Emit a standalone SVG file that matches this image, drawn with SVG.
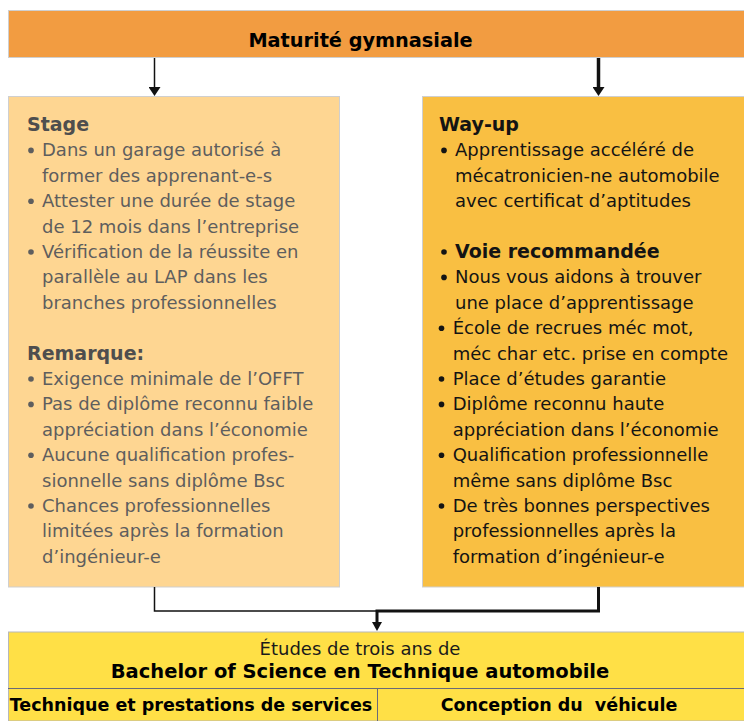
<svg xmlns="http://www.w3.org/2000/svg" width="744" height="721" viewBox="0 0 744 721">
<defs>
<style>
text{font-family:"DejaVu Sans","Liberation Sans",sans-serif}
.b{font-size:18px}
.h{font-size:19px;font-weight:bold}
.l{fill:#5e5e5e}
.lh{fill:#4e4e4e}
.r{fill:#141414}
.dl{fill:#5e5e5e}
.dr{fill:#141414}
.box{stroke:#cfcfcf;stroke-width:1}
.ln{fill:none;stroke:#111}
</style>
<marker id="ah" markerUnits="userSpaceOnUse" markerWidth="12" markerHeight="12" viewBox="0 0 9 12" refX="0" refY="6" orient="auto">
<path d="M0,0 L9,6 L0,12 z" fill="#111"/>
</marker>
<marker id="ah2" markerUnits="userSpaceOnUse" markerWidth="10" markerHeight="10" viewBox="0 0 9 10" refX="0" refY="5" orient="auto">
<path d="M0,0 L9,5 L0,10 z" fill="#111"/>
</marker>
</defs>

<g id="title">
<rect class="box" x="8.5" y="10.5" width="736" height="47" fill="#F29C41"/>
<text x="360.5" y="46.7" text-anchor="middle" font-size="19.3" font-weight="bold" fill="#000">Maturité gymnasiale</text>
</g>

<g id="stage">
<rect class="box" x="8.5" y="96.5" width="331" height="490.5" fill="#FED692"/>
<text class="h lh" x="27" y="131">Stage</text>
<g class="dl">
<circle cx="31" cy="150.4" r="2.8"/><circle cx="31" cy="201.2" r="2.8"/><circle cx="31" cy="252" r="2.8"/>
<circle cx="31" cy="379" r="2.8"/><circle cx="31" cy="404.4" r="2.8"/><circle cx="31" cy="455.2" r="2.8"/><circle cx="31" cy="506" r="2.8"/>
</g>
<g class="b l">
<text x="42" y="156.4">Dans un garage autorisé à</text>
<text x="42" y="181.8">former des apprenant-e-s</text>
<text x="42" y="207.2">Attester une durée de stage</text>
<text x="42" y="232.6">de 12 mois dans l’entreprise</text>
<text x="42" y="258">Vérification de la réussite en</text>
<text x="42" y="283.4">parallèle au LAP dans les</text>
<text x="42" y="308.8">branches professionnelles</text>
</g>
<text class="h lh" x="27" y="359.6">Remarque:</text>
<g class="b l">
<text x="42" y="385">Exigence minimale de l’OFFT</text>
<text x="42" y="410.4">Pas de diplôme reconnu faible</text>
<text x="42" y="435.8">appréciation dans l’économie</text>
<text x="42" y="461.2">Aucune qualification profes-</text>
<text x="42" y="486.6">sionnelle sans diplôme Bsc</text>
<text x="42" y="512">Chances professionnelles</text>
<text x="42" y="537.4">limitées après la formation</text>
<text x="42" y="562.8">d’ingénieur-e</text>
</g>
</g>

<g id="wayup">
<rect class="box" x="422.5" y="96.5" width="322" height="490.5" fill="#F9BF42"/>
<text class="h r" x="439" y="131">Way-up</text>
<g class="dr">
<circle cx="444" cy="150.4" r="2.8"/><circle cx="444" cy="252" r="2.8"/><circle cx="444" cy="277.4" r="2.8"/>
<circle cx="441.5" cy="328.2" r="2.8"/><circle cx="441.5" cy="379" r="2.8"/><circle cx="441.5" cy="404.4" r="2.8"/><circle cx="441.5" cy="455.2" r="2.8"/><circle cx="441.5" cy="506" r="2.8"/>
</g>
<g class="b r">
<text x="455" y="156.4">Apprentissage accéléré de</text>
<text x="455" y="181.8">mécatronicien-ne automobile</text>
<text x="455" y="207.2">avec certificat d’aptitudes</text>
</g>
<text class="h r" x="455" y="258">Voie recommandée</text>
<g class="b r">
<text x="455" y="283.4">Nous vous aidons à trouver</text>
<text x="455" y="308.8">une place d’apprentissage</text>
<text x="452.7" y="334.2">École de recrues méc mot,</text>
<text x="452.7" y="359.6">méc char etc. prise en compte</text>
<text x="452.7" y="385">Place d’études garantie</text>
<text x="452.7" y="410.4">Diplôme reconnu haute</text>
<text x="452.7" y="435.8">appréciation dans l’économie</text>
<text x="452.7" y="461.2">Qualification professionnelle</text>
<text x="452.7" y="486.6">même sans diplôme Bsc</text>
<text x="452.7" y="512">De très bonnes perspectives</text>
<text x="452.7" y="537.4">professionnelles après la</text>
<text x="452.7" y="562.8">formation d’ingénieur-e</text>
</g>
</g>

<g id="bachelor">
<rect x="8.5" y="632" width="736" height="89" fill="#FFE046" stroke="#b8b8b8" stroke-width="1"/>
<line x1="8" y1="688.5" x2="744" y2="688.5" stroke="#6a6a78" stroke-width="1"/>
<line x1="377.5" y1="688.5" x2="377.5" y2="721" stroke="#6a6a78" stroke-width="1"/>
<text class="b" x="360" y="655" text-anchor="middle" fill="#1a1a1a">Études de trois ans de</text>
<text x="360" y="678.3" text-anchor="middle" font-size="19.5" font-weight="bold" fill="#000">Bachelor of Science en Technique automobile</text>
<text x="191" y="711" text-anchor="middle" font-size="17.5" font-weight="bold" fill="#000">Technique et prestations de services</text>
<text x="559" y="711" text-anchor="middle" font-size="17.5" font-weight="bold" fill="#000" xml:space="preserve">Conception du  véhicule</text>
</g>

<g id="connectors">
<line class="ln" x1="154.5" y1="58" x2="154.5" y2="87" stroke-width="1.5" marker-end="url(#ah)"/>
<line class="ln" x1="598.5" y1="58" x2="598.5" y2="87" stroke-width="3.5" marker-end="url(#ah)"/>
<polyline class="ln" points="154.5,587 154.5,611 377,611" stroke-width="1.5"/>
<polyline class="ln" points="598.5,587 598.5,611 377,611 377,622" stroke-width="3" marker-end="url(#ah2)"/>
</g>
</svg>
